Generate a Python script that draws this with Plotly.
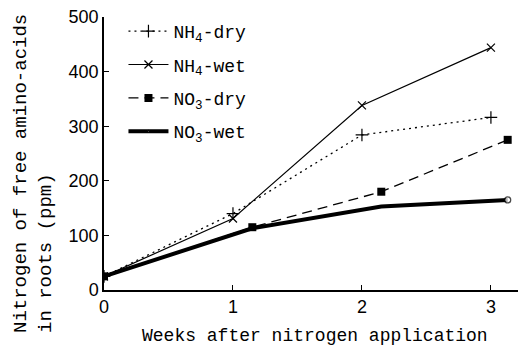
import plotly.graph_objects as go

# Data
nh4_weeks = [0, 1, 2, 3]
no3_weeks = [0, 1.15, 2.15, 3.13]
nh4_dry = [25, 140, 284, 316]
nh4_wet = [25, 131, 338, 444]
no3_dry = [25, 115, 180, 275]
no3_wet = [25, 113, 153, 165]
y_ticks = [0, 100, 200, 300, 400, 500]
x_ticks = [0, 1, 2, 3]

mono = "Liberation Mono"
sans = "Liberation Sans"

fig = go.Figure()
fig.add_trace(go.Scatter(
    x=nh4_weeks, y=nh4_dry, name="NH<sub>4</sub>-dry", legendgroup="a",
    mode="lines+markers",
    line=dict(color="black", width=1.3, dash="2px,4px"),
    marker=dict(symbol="cross-thin", size=9, line=dict(color="black", width=1.2)),
))
fig.add_trace(go.Scatter(
    x=nh4_weeks, y=nh4_wet, name="NH<sub>4</sub>-wet", legendgroup="b",
    mode="lines+markers",
    line=dict(color="black", width=1.2),
    marker=dict(symbol="x-thin", size=8, line=dict(color="black", width=1.2)),
))
fig.add_trace(go.Scatter(
    x=no3_weeks, y=no3_dry, name="NO<sub>3</sub>-dry", legendgroup="c",
    mode="lines+markers",
    line=dict(color="black", width=1.3, dash="10px,6px"),
    marker=dict(symbol="square", size=8, color="black"),
))
fig.add_trace(go.Scatter(
    x=no3_weeks, y=no3_wet, name="NO<sub>3</sub>-wet", legendgroup="d",
    mode="lines+markers",
    line=dict(color="black", width=4),
    marker=dict(symbol="circle", size=[0, 0, 0, 6], color="white",
                line=dict(color="black", width=1.3)),
))

fig.update_layout(
    width=518, height=350,
    margin=dict(l=104, r=0, t=17, b=60),
    plot_bgcolor="white", paper_bgcolor="white",
    showlegend=True,
    legend=dict(x=0.047, y=1.015, xanchor="left", yanchor="top",
                font=dict(family=mono, size=18, color="black"),
                bgcolor="rgba(0,0,0,0)", tracegroupgap=7, itemwidth=40,
                traceorder="grouped"),
    xaxis=dict(range=[0, 3.21], tickvals=x_ticks, ticks="inside", ticklen=5,
               tickcolor="black", showline=True, linecolor="black", linewidth=1.5,
               showgrid=False, zeroline=False,
               tickfont=dict(family=sans, size=18, color="black")),
    yaxis=dict(range=[0, 500], tickvals=y_ticks, ticks="inside", ticklen=5,
               tickcolor="black", showline=True, linecolor="black", linewidth=1.5,
               showgrid=False, zeroline=False,
               tickfont=dict(family=sans, size=18, color="black")),
    annotations=[
        dict(text="Weeks after nitrogen application", xref="paper", yref="paper",
             x=0.51, y=-0.17, xanchor="center", yanchor="middle", showarrow=False,
             font=dict(family=mono, size=18, color="black")),
        dict(text="Nitrogen of free amino-acids<br>in roots (ppm)", xref="paper", yref="paper",
             x=-0.232, y=-0.165, xanchor="left", yanchor="bottom", showarrow=False,
             textangle=-90, align="left",
             font=dict(family=mono, size=19, color="black")),
    ],
)

fig.write_html("out.html", config={"displayModeBar": False},
               post_script="document.body.style.margin='0';document.body.style.overflow='hidden';")
